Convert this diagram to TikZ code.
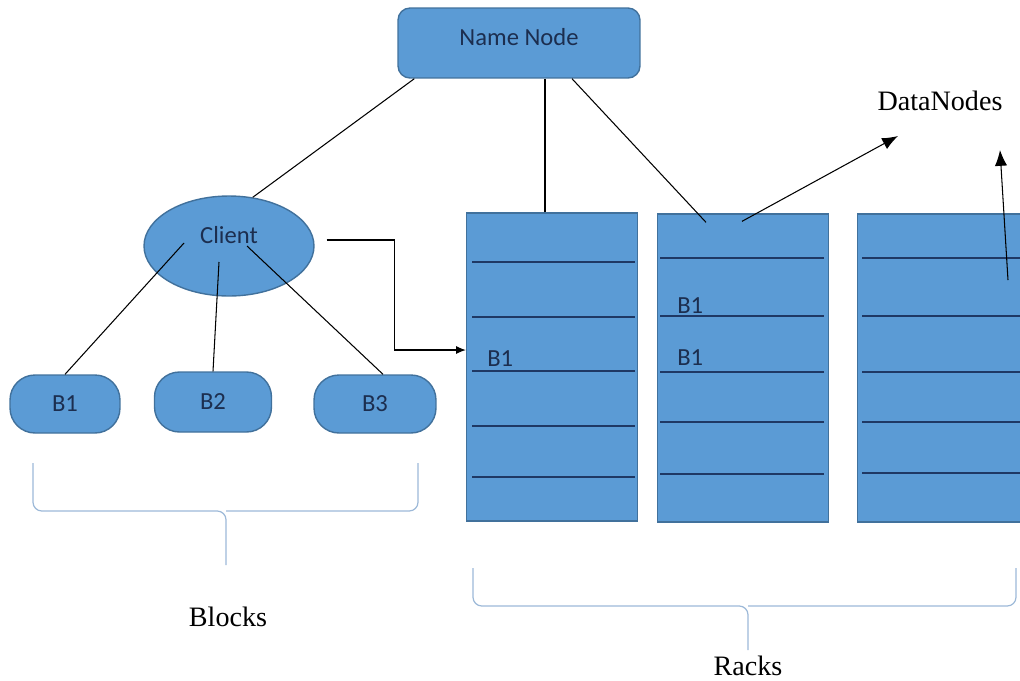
\documentclass[tikz,border=0pt]{standalone}
\usepackage{fontspec}
\setmainfont{Liberation Serif}
\newfontfamily\carlito{Carlito}
\usetikzlibrary{shapes.geometric, arrows.meta}

\definecolor{boxblue}{HTML}{5B9BD5}
\definecolor{boxedge}{HTML}{41719C}
\definecolor{shelfline}{HTML}{1F3864}
\definecolor{labelink}{HTML}{1C2E4F}
\definecolor{bracecol}{HTML}{9DB9D8}

\tikzset{
  box/.style={draw=boxedge, fill=boxblue, line width=0.8pt, text=labelink,
              font=\carlito\fontsize{14}{16}\selectfont},
  namebox/.style={box, rounded corners=0.24cm, minimum width=4.84cm, minimum height=1.4cm},
  clientbox/.style={box, ellipse, minimum width=3.4cm, minimum height=2cm},
  blockbox/.style={box, rounded corners=0.5cm, minimum height=1.16cm},
  rackbox/.style={draw=boxedge, fill=boxblue, line width=0.8pt,
                  minimum width=3.42cm, minimum height=6.16cm},
  shelf/.style={draw=shelfline, line width=0.8pt},
  slot/.style={text=labelink, font=\carlito\fontsize{14}{16}\selectfont,
               inner sep=0pt, anchor=base west},
  caption/.style={font=\fontsize{16}{19}\selectfont},
  brace/.style={draw=bracecol, line width=0.7pt, rounded corners=5pt},
  link/.style={line width=0.6pt},
  bigtip/.style={-{Latex[length=9pt, width=7pt]}},
}

\begin{document}
\begin{tikzpicture}[x=0.02cm, y=-0.02cm,
                    >={Latex[length=5.5pt, width=4.5pt]}]
        \useasboundingbox (0,0) rectangle (1020,680);
        % Draw the name node and the client
        \node[namebox, text depth=0.24cm] at (519,43)  (namenode) {Name Node};
        \node[clientbox, text depth=0.44cm] at (229,246) (client) {Client};
        % Draw the blocks
        \node[blockbox, minimum width=2.2cm]  at (65,404)  (blockone)   {B1};
        \node[blockbox, minimum width=2.34cm,
              minimum height=1.2cm]           at (213,402) (blocktwo)   {B2};
        \node[blockbox, minimum width=2.44cm] at (375,404) (blockthree) {B3};
        % Draw the racks and their shelves
        \node[rackbox] at (552,367) (rackone)   {};
        \node[rackbox] at (743,368) (racktwo)   {};
        \node[rackbox] at (943,368) (rackthree) {};
        \foreach \y in {262,317,371,426,477}
            \draw[shelf] (472,\y) -- (635,\y);
        \foreach \y in {258,316,372,422,474}
            \draw[shelf] (660,\y) -- (824,\y);
        \foreach \y in {258,316,372,422,473}
            \draw[shelf] (862,\y) -- (1020,\y);
        \node[slot] at (487,366) (slotone)   {B1};
        \node[slot] at (677,313) (slottwo)   {B1};
        \node[slot] at (677,365) (slotthree) {B1};
        % Captions
        \node[caption] at (940,101) (datanodes) {DataNodes};
        \node[caption] at (228,617) (blocks)    {Blocks};
        \node[caption] at (748,666) (racks)     {Racks};
        \coordinate (dnleft)  at (898,136);
        \coordinate (dnright) at (1000,150);
        % Connect the nodes
        \draw[link] ([xshift=0.34cm]namenode.south west) -- (client.64);
        \draw[link] ([xshift=-0.14cm]rackone.north)
            -- ([xshift=-0.14cm]rackone.north |- namenode.south);
        \draw[link] ([xshift=1.06cm]namenode.south)
            -- ([xshift=-0.74cm, yshift=-0.18cm]racktwo.north);
        \draw[link] ([xshift=-0.9cm, yshift=0.06cm]client.center) -- (blockone.north);
        \draw[link] ([xshift=-0.2cm, yshift=-0.32cm]client.center) -- (blocktwo.north);
        \draw[link] ([xshift=0.36cm]client.center) -- ([xshift=0.16cm]blockthree.north);
        \draw[link, ->] ([xshift=0.24cm, yshift=0.12cm]client.east)
            -- ++(68,0) |- ([yshift=0.34cm]rackone.west);
        \draw[link, bigtip] ([xshift=-0.02cm, yshift=-0.16cm]racktwo.north) -- (dnleft);
        \draw[link, bigtip] ([xshift=1.3cm, yshift=1.76cm]rackthree.center) -- (dnright);
        % Braces
        \draw[brace] (33,463) -- (33,511) -- (226,511) -- (226,565);
        \draw[brace] (418,463) -- (418,511) -- (226,511);
        \draw[brace] (473,568) -- (473,606) -- (748,606) -- (748,650);
        \draw[brace] (1016,568) -- (1016,606) -- (748,606);
\end{tikzpicture}
\end{document}
